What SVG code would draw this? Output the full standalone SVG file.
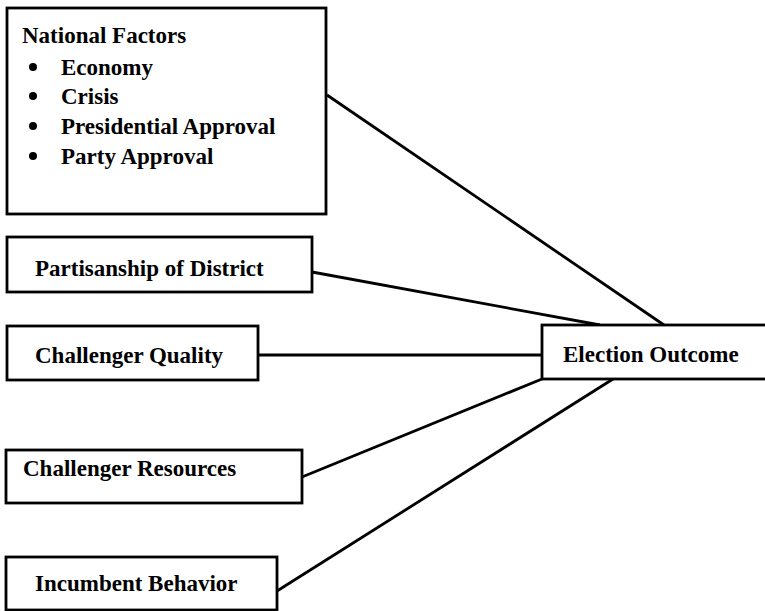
<svg xmlns="http://www.w3.org/2000/svg" width="765" height="611" viewBox="0 0 765 611">
<style>
.box{fill:#fff;stroke:#000;stroke-width:2.8}
.t{font-family:"Liberation Serif","Times New Roman",serif;font-size:23px;font-weight:bold;fill:#000}
.c line{stroke:#000;stroke-width:2.8}
</style>
<rect width="765" height="611" fill="#fff"/>
<g class="c" id="connectors">
<line x1="327" y1="95" x2="664" y2="325"/>
<line x1="312" y1="272" x2="600" y2="325"/>
<line x1="258" y1="355" x2="542" y2="355"/>
<line x1="302" y1="477" x2="542" y2="379"/>
<line x1="277" y1="591" x2="613" y2="379"/>
</g>
<g id="national">
<rect class="box" x="7" y="8" width="319" height="206"/>
<text class="t" x="22" y="43">National Factors</text>
<circle cx="33" cy="67" r="4"/>
<text class="t" x="61" y="75">Economy</text>
<circle cx="33" cy="96" r="4"/>
<text class="t" x="61" y="104">Crisis</text>
<circle cx="33" cy="126" r="4"/>
<text class="t" x="61" y="134">Presidential Approval</text>
<circle cx="33" cy="156" r="4"/>
<text class="t" x="61" y="164">Party Approval</text>
</g>
<g id="partisanship">
<rect class="box" x="7" y="237" width="305" height="55"/>
<text class="t" x="35" y="276">Partisanship of District</text>
</g>
<g id="quality">
<rect class="box" x="7" y="326" width="251" height="54"/>
<text class="t" x="35" y="363">Challenger Quality</text>
</g>
<g id="resources">
<rect class="box" x="6" y="450" width="296" height="53"/>
<text class="t" x="23" y="476">Challenger Resources</text>
</g>
<g id="incumbent">
<rect class="box" x="6" y="557" width="271" height="53"/>
<text class="t" x="35" y="591">Incumbent Behavior</text>
</g>
<g id="outcome">
<rect class="box" x="542" y="325" width="230" height="54"/>
<text class="t" x="563" y="362">Election Outcome</text>
</g>
</svg>
